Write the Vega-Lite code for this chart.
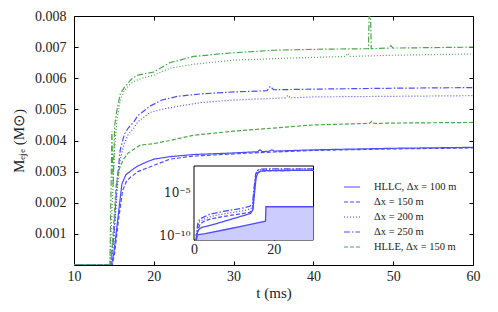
{
  "$schema": "https://vega.github.io/schema/vega-lite/v6.json",
  "width": 399,
  "height": 249,
  "autosize": {"type": "none"},
  "padding": {"left": 74, "top": 16, "right": 25, "bottom": 47},
  "background": "white",
  "config": {
    "view": {"stroke": "#000000", "strokeWidth": 1},
    "font": "Liberation Serif",
    "axis": {"grid": false, "domain": false, "labelFont": "Liberation Serif", "labelFontSize": 14, "labelColor": "#222", "tickColor": "#000", "titleFont": "Liberation Serif", "titleFontSize": 15, "titleFontWeight": "normal", "titleColor": "#222"}
  },
  "datasets": {
    "main": [
      {"s": "HLLC, Δx = 100 m", "t": 10, "m": 0}, {"s": "HLLC, Δx = 100 m", "t": 14.7, "m": 0}, {"s": "HLLC, Δx = 100 m", "t": 15, "m": 0.0004}, {"s": "HLLC, Δx = 100 m", "t": 15.5, "m": 0.0015}, {"s": "HLLC, Δx = 100 m", "t": 16, "m": 0.0026}, {"s": "HLLC, Δx = 100 m", "t": 16.5, "m": 0.0029}, {"s": "HLLC, Δx = 100 m", "t": 17, "m": 0.003}, {"s": "HLLC, Δx = 100 m", "t": 17.5, "m": 0.0031}, {"s": "HLLC, Δx = 100 m", "t": 18, "m": 0.00318}, {"s": "HLLC, Δx = 100 m", "t": 19, "m": 0.0033}, {"s": "HLLC, Δx = 100 m", "t": 20, "m": 0.0034}, {"s": "HLLC, Δx = 100 m", "t": 22, "m": 0.00348}, {"s": "HLLC, Δx = 100 m", "t": 25, "m": 0.00355}, {"s": "HLLC, Δx = 100 m", "t": 30, "m": 0.0036}, {"s": "HLLC, Δx = 100 m", "t": 33, "m": 0.00364}, {"s": "HLLC, Δx = 100 m", "t": 33.3, "m": 0.0037}, {"s": "HLLC, Δx = 100 m", "t": 33.6, "m": 0.00364}, {"s": "HLLC, Δx = 100 m", "t": 34.5, "m": 0.00366}, {"s": "HLLC, Δx = 100 m", "t": 34.8, "m": 0.0037}, {"s": "HLLC, Δx = 100 m", "t": 35.1, "m": 0.00366}, {"s": "HLLC, Δx = 100 m", "t": 40, "m": 0.0037}, {"s": "HLLC, Δx = 100 m", "t": 50, "m": 0.00375}, {"s": "HLLC, Δx = 100 m", "t": 60, "m": 0.00378},
      {"s": "Δx = 150 m", "t": 10, "m": 0}, {"s": "Δx = 150 m", "t": 14.8, "m": 0}, {"s": "Δx = 150 m", "t": 15.1, "m": 0.0004}, {"s": "Δx = 150 m", "t": 15.6, "m": 0.0015}, {"s": "Δx = 150 m", "t": 16.1, "m": 0.0024}, {"s": "Δx = 150 m", "t": 16.6, "m": 0.0027}, {"s": "Δx = 150 m", "t": 17, "m": 0.0028}, {"s": "Δx = 150 m", "t": 18, "m": 0.003}, {"s": "Δx = 150 m", "t": 19, "m": 0.0031}, {"s": "Δx = 150 m", "t": 20, "m": 0.0032}, {"s": "Δx = 150 m", "t": 22, "m": 0.0034}, {"s": "Δx = 150 m", "t": 25, "m": 0.0035}, {"s": "Δx = 150 m", "t": 30, "m": 0.00357}, {"s": "Δx = 150 m", "t": 35, "m": 0.00363}, {"s": "Δx = 150 m", "t": 40, "m": 0.00368}, {"s": "Δx = 150 m", "t": 50, "m": 0.00373}, {"s": "Δx = 150 m", "t": 60, "m": 0.00376},
      {"s": "Δx = 200 m", "t": 10, "m": 0}, {"s": "Δx = 200 m", "t": 14.6, "m": 0}, {"s": "Δx = 200 m", "t": 15, "m": 0.0008}, {"s": "Δx = 200 m", "t": 15.4, "m": 0.0024}, {"s": "Δx = 200 m", "t": 15.8, "m": 0.0034}, {"s": "Δx = 200 m", "t": 16.3, "m": 0.0039}, {"s": "Δx = 200 m", "t": 16.8, "m": 0.0042}, {"s": "Δx = 200 m", "t": 17.5, "m": 0.0044}, {"s": "Δx = 200 m", "t": 18, "m": 0.0046}, {"s": "Δx = 200 m", "t": 18.5, "m": 0.0047}, {"s": "Δx = 200 m", "t": 19.5, "m": 0.0049}, {"s": "Δx = 200 m", "t": 21, "m": 0.005}, {"s": "Δx = 200 m", "t": 23, "m": 0.0051}, {"s": "Δx = 200 m", "t": 26, "m": 0.00522}, {"s": "Δx = 200 m", "t": 30, "m": 0.0053}, {"s": "Δx = 200 m", "t": 36.5, "m": 0.00537}, {"s": "Δx = 200 m", "t": 36.8, "m": 0.00545}, {"s": "Δx = 200 m", "t": 37.1, "m": 0.00537}, {"s": "Δx = 200 m", "t": 40, "m": 0.0054}, {"s": "Δx = 200 m", "t": 50, "m": 0.00542}, {"s": "Δx = 200 m", "t": 60, "m": 0.00544},
      {"s": "Δx = 250 m", "t": 10, "m": 0}, {"s": "Δx = 250 m", "t": 14.6, "m": 0}, {"s": "Δx = 250 m", "t": 15, "m": 0.001}, {"s": "Δx = 250 m", "t": 15.4, "m": 0.0027}, {"s": "Δx = 250 m", "t": 15.8, "m": 0.0037}, {"s": "Δx = 250 m", "t": 16.3, "m": 0.0042}, {"s": "Δx = 250 m", "t": 16.8, "m": 0.0044}, {"s": "Δx = 250 m", "t": 17.5, "m": 0.0046}, {"s": "Δx = 250 m", "t": 18, "m": 0.0048}, {"s": "Δx = 250 m", "t": 18.5, "m": 0.0049}, {"s": "Δx = 250 m", "t": 19.5, "m": 0.0051}, {"s": "Δx = 250 m", "t": 21, "m": 0.0053}, {"s": "Δx = 250 m", "t": 23, "m": 0.00542}, {"s": "Δx = 250 m", "t": 26, "m": 0.0055}, {"s": "Δx = 250 m", "t": 30, "m": 0.00556}, {"s": "Δx = 250 m", "t": 34.2, "m": 0.0056}, {"s": "Δx = 250 m", "t": 34.6, "m": 0.00574}, {"s": "Δx = 250 m", "t": 35, "m": 0.00563}, {"s": "Δx = 250 m", "t": 40, "m": 0.00565}, {"s": "Δx = 250 m", "t": 50, "m": 0.00568}, {"s": "Δx = 250 m", "t": 60, "m": 0.0057},
      {"s": "HLLE, Δx = 150 m", "t": 10, "m": 0}, {"s": "HLLE, Δx = 150 m", "t": 14.6, "m": 0}, {"s": "HLLE, Δx = 150 m", "t": 14.9, "m": 0.001}, {"s": "HLLE, Δx = 150 m", "t": 15.3, "m": 0.0026}, {"s": "HLLE, Δx = 150 m", "t": 15.7, "m": 0.0031}, {"s": "HLLE, Δx = 150 m", "t": 16.2, "m": 0.0034}, {"s": "HLLE, Δx = 150 m", "t": 16.8, "m": 0.0036}, {"s": "HLLE, Δx = 150 m", "t": 18.3, "m": 0.00385}, {"s": "HLLE, Δx = 150 m", "t": 20, "m": 0.0039}, {"s": "HLLE, Δx = 150 m", "t": 22, "m": 0.004}, {"s": "HLLE, Δx = 150 m", "t": 25, "m": 0.00417}, {"s": "HLLE, Δx = 150 m", "t": 30, "m": 0.0043}, {"s": "HLLE, Δx = 150 m", "t": 34, "m": 0.00438}, {"s": "HLLE, Δx = 150 m", "t": 40, "m": 0.0045}, {"s": "HLLE, Δx = 150 m", "t": 47, "m": 0.00455}, {"s": "HLLE, Δx = 150 m", "t": 47.3, "m": 0.00462}, {"s": "HLLE, Δx = 150 m", "t": 47.6, "m": 0.00455}, {"s": "HLLE, Δx = 150 m", "t": 50, "m": 0.00456}, {"s": "HLLE, Δx = 150 m", "t": 60, "m": 0.00458},
      {"s": "HLLE, Δx = 200 m", "t": 10, "m": 0}, {"s": "HLLE, Δx = 200 m", "t": 14.5, "m": 0}, {"s": "HLLE, Δx = 200 m", "t": 14.8, "m": 0.002}, {"s": "HLLE, Δx = 200 m", "t": 15.1, "m": 0.0038}, {"s": "HLLE, Δx = 200 m", "t": 15.4, "m": 0.0047}, {"s": "HLLE, Δx = 200 m", "t": 15.8, "m": 0.0053}, {"s": "HLLE, Δx = 200 m", "t": 16.3, "m": 0.0056}, {"s": "HLLE, Δx = 200 m", "t": 17, "m": 0.0058}, {"s": "HLLE, Δx = 200 m", "t": 17.5, "m": 0.0059}, {"s": "HLLE, Δx = 200 m", "t": 18.5, "m": 0.006}, {"s": "HLLE, Δx = 200 m", "t": 20, "m": 0.0061}, {"s": "HLLE, Δx = 200 m", "t": 22, "m": 0.00632}, {"s": "HLLE, Δx = 200 m", "t": 25, "m": 0.00645}, {"s": "HLLE, Δx = 200 m", "t": 30, "m": 0.00658}, {"s": "HLLE, Δx = 200 m", "t": 35, "m": 0.00663}, {"s": "HLLE, Δx = 200 m", "t": 40, "m": 0.00667}, {"s": "HLLE, Δx = 200 m", "t": 44, "m": 0.0067}, {"s": "HLLE, Δx = 200 m", "t": 44.3, "m": 0.0068}, {"s": "HLLE, Δx = 200 m", "t": 44.6, "m": 0.0067}, {"s": "HLLE, Δx = 200 m", "t": 50, "m": 0.00674}, {"s": "HLLE, Δx = 200 m", "t": 60, "m": 0.00678},
      {"s": "HLLE, Δx = 250 m", "t": 10, "m": 0}, {"s": "HLLE, Δx = 250 m", "t": 14.5, "m": 0}, {"s": "HLLE, Δx = 250 m", "t": 14.75, "m": 0.0043}, {"s": "HLLE, Δx = 250 m", "t": 14.9, "m": 0.0025}, {"s": "HLLE, Δx = 250 m", "t": 15.1, "m": 0.0045}, {"s": "HLLE, Δx = 250 m", "t": 15.4, "m": 0.005}, {"s": "HLLE, Δx = 250 m", "t": 15.8, "m": 0.0055}, {"s": "HLLE, Δx = 250 m", "t": 16.3, "m": 0.0057}, {"s": "HLLE, Δx = 250 m", "t": 17.3, "m": 0.006}, {"s": "HLLE, Δx = 250 m", "t": 18, "m": 0.0061}, {"s": "HLLE, Δx = 250 m", "t": 20, "m": 0.0062}, {"s": "HLLE, Δx = 250 m", "t": 22, "m": 0.0065}, {"s": "HLLE, Δx = 250 m", "t": 25, "m": 0.0067}, {"s": "HLLE, Δx = 250 m", "t": 29, "m": 0.0068}, {"s": "HLLE, Δx = 250 m", "t": 35, "m": 0.0069}, {"s": "HLLE, Δx = 250 m", "t": 40, "m": 0.00693}, {"s": "HLLE, Δx = 250 m", "t": 46.9, "m": 0.00695}, {"s": "HLLE, Δx = 250 m", "t": 47, "m": 0.0082}, {"s": "HLLE, Δx = 250 m", "t": 47.15, "m": 0.0082}, {"s": "HLLE, Δx = 250 m", "t": 47.25, "m": 0.00695}, {"s": "HLLE, Δx = 250 m", "t": 49.4, "m": 0.00697}, {"s": "HLLE, Δx = 250 m", "t": 49.7, "m": 0.00705}, {"s": "HLLE, Δx = 250 m", "t": 50, "m": 0.00697}, {"s": "HLLE, Δx = 250 m", "t": 60, "m": 0.007}
    ],
    "inset": [
      {"s": "HLLC, Δx = 100 m", "t": 0.5, "m": 3e-11}, {"s": "HLLC, Δx = 100 m", "t": 0.8, "m": 2e-10}, {"s": "HLLC, Δx = 100 m", "t": 1.2, "m": 5e-10}, {"s": "HLLC, Δx = 100 m", "t": 2, "m": 9e-10}, {"s": "HLLC, Δx = 100 m", "t": 3.6, "m": 1.3e-9}, {"s": "HLLC, Δx = 100 m", "t": 6, "m": 2.7e-9}, {"s": "HLLC, Δx = 100 m", "t": 9, "m": 7e-9}, {"s": "HLLC, Δx = 100 m", "t": 12, "m": 1.8e-8}, {"s": "HLLC, Δx = 100 m", "t": 14.2, "m": 3.6e-8}, {"s": "HLLC, Δx = 100 m", "t": 14.8, "m": 1e-7}, {"s": "HLLC, Δx = 100 m", "t": 15.2, "m": 1e-5}, {"s": "HLLC, Δx = 100 m", "t": 15.6, "m": 5e-4}, {"s": "HLLC, Δx = 100 m", "t": 16, "m": 1.8e-3}, {"s": "HLLC, Δx = 100 m", "t": 16.7, "m": 3e-3}, {"s": "HLLC, Δx = 100 m", "t": 18, "m": 3.5e-3}, {"s": "HLLC, Δx = 100 m", "t": 22, "m": 3.6e-3}, {"s": "HLLC, Δx = 100 m", "t": 30, "m": 3.8e-3},
      {"s": "Δx = 150 m", "t": 0.6, "m": 3e-11}, {"s": "Δx = 150 m", "t": 1, "m": 5e-10}, {"s": "Δx = 150 m", "t": 1.5, "m": 2e-9}, {"s": "Δx = 150 m", "t": 2.3, "m": 4e-9}, {"s": "Δx = 150 m", "t": 4, "m": 8e-9}, {"s": "Δx = 150 m", "t": 7, "m": 1.5e-8}, {"s": "Δx = 150 m", "t": 10, "m": 2.5e-8}, {"s": "Δx = 150 m", "t": 12.5, "m": 3.8e-8}, {"s": "Δx = 150 m", "t": 14, "m": 5e-8}, {"s": "Δx = 150 m", "t": 14.7, "m": 1e-7}, {"s": "Δx = 150 m", "t": 15.1, "m": 1e-5}, {"s": "Δx = 150 m", "t": 15.5, "m": 6e-4}, {"s": "Δx = 150 m", "t": 16, "m": 2e-3}, {"s": "Δx = 150 m", "t": 17, "m": 3.2e-3}, {"s": "Δx = 150 m", "t": 20, "m": 3.5e-3}, {"s": "Δx = 150 m", "t": 30, "m": 3.8e-3},
      {"s": "Δx = 200 m", "t": 0.6, "m": 3e-11}, {"s": "Δx = 200 m", "t": 0.9, "m": 1e-9}, {"s": "Δx = 200 m", "t": 1.4, "m": 4e-9}, {"s": "Δx = 200 m", "t": 2.3, "m": 7e-9}, {"s": "Δx = 200 m", "t": 4, "m": 1.5e-8}, {"s": "Δx = 200 m", "t": 7, "m": 3e-8}, {"s": "Δx = 200 m", "t": 10, "m": 5e-8}, {"s": "Δx = 200 m", "t": 12.5, "m": 8e-8}, {"s": "Δx = 200 m", "t": 14, "m": 1.1e-7}, {"s": "Δx = 200 m", "t": 14.7, "m": 2e-7}, {"s": "Δx = 200 m", "t": 15.1, "m": 2e-5}, {"s": "Δx = 200 m", "t": 15.5, "m": 1.2e-3}, {"s": "Δx = 200 m", "t": 16, "m": 3.5e-3}, {"s": "Δx = 200 m", "t": 17, "m": 4.8e-3}, {"s": "Δx = 200 m", "t": 20, "m": 5.2e-3}, {"s": "Δx = 200 m", "t": 30, "m": 5.4e-3},
      {"s": "Δx = 250 m", "t": 0.6, "m": 3e-11}, {"s": "Δx = 250 m", "t": 0.9, "m": 2e-9}, {"s": "Δx = 250 m", "t": 1.4, "m": 8e-9}, {"s": "Δx = 250 m", "t": 2.3, "m": 1.3e-8}, {"s": "Δx = 250 m", "t": 4, "m": 3e-8}, {"s": "Δx = 250 m", "t": 7, "m": 6e-8}, {"s": "Δx = 250 m", "t": 10, "m": 1e-7}, {"s": "Δx = 250 m", "t": 12.5, "m": 1.6e-7}, {"s": "Δx = 250 m", "t": 14, "m": 2.5e-7}, {"s": "Δx = 250 m", "t": 14.7, "m": 5e-7}, {"s": "Δx = 250 m", "t": 15.1, "m": 4e-5}, {"s": "Δx = 250 m", "t": 15.5, "m": 1.5e-3}, {"s": "Δx = 250 m", "t": 16, "m": 4e-3}, {"s": "Δx = 250 m", "t": 17, "m": 5.3e-3}, {"s": "Δx = 250 m", "t": 20, "m": 5.6e-3}, {"s": "Δx = 250 m", "t": 30, "m": 5.7e-3}
    ],
    "floor": [
      {"t": 0.3, "m": 1.1e-10}, {"t": 2.8, "m": 1.7e-10}, {"t": 8, "m": 5e-10}, {"t": 13, "m": 1.5e-9}, {"t": 17.95, "m": 4.6e-9}, {"t": 18.05, "m": 2.2e-7}, {"t": 30, "m": 2.2e-7}
    ]
  },
  "layer": [
    {
      "layer": [
        {
          "data": {"name": "main"},
          "mark": {"type": "line", "strokeWidth": 1.2, "clip": true},
          "encoding": {
            "x": {"field": "t", "type": "quantitative", "scale": {"domain": [10, 60], "nice": false, "zero": false},
                  "axis": {"orient": "bottom", "values": [10, 20, 30, 40, 50, 60], "tickSize": -4, "labelPadding": 8, "title": "t (ms)", "titlePadding": 2, "labelFlush": false}},
            "y": {"field": "m", "type": "quantitative", "scale": {"domain": [0, 0.008], "nice": false},
                  "axis": {"orient": "left", "values": [0.001, 0.002, 0.003, 0.004, 0.005, 0.006, 0.007, 0.008], "format": ".3f", "tickSize": -4, "labelPadding": 12, "title": "Mₑⱼₑ (M⊙)", "titlePadding": 8, "labelFlush": false}},
            "color": {"field": "s", "type": "nominal",
                      "scale": {"domain": ["HLLC, Δx = 100 m", "Δx = 150 m", "Δx = 200 m", "Δx = 250 m", "HLLE, Δx = 150 m", "HLLE, Δx = 200 m", "HLLE, Δx = 250 m"],
                                "range": ["#4d4dff", "#4d4dff", "#4d4dff", "#4d4dff", "#4da64d", "#4da64d", "#4da64d"]},
                      "legend": {"values": ["HLLC, Δx = 100 m", "Δx = 150 m", "Δx = 200 m", "Δx = 250 m", "HLLE, Δx = 150 m"], "title": null, "orient": "none", "legendX": 269, "legendY": 162, "symbolType": "stroke", "symbolSize": 256, "symbolStrokeWidth": 1.2, "labelOffset": 13, "labelFont": "Liberation Serif", "labelFontSize": 10.5, "labelColor": "#222", "rowPadding": 0}},
            "strokeDash": {"field": "s", "type": "nominal",
                      "scale": {"domain": ["HLLC, Δx = 100 m", "Δx = 150 m", "Δx = 200 m", "Δx = 250 m", "HLLE, Δx = 150 m", "HLLE, Δx = 200 m", "HLLE, Δx = 250 m"],
                                "range": [[1, 0], [4, 2], [1, 2], [6, 2, 1.5, 2], [4, 2], [1, 2], [6, 2, 1.5, 2]]},
                      "legend": {"values": ["HLLC, Δx = 100 m", "Δx = 150 m", "Δx = 200 m", "Δx = 250 m", "HLLE, Δx = 150 m"], "title": null, "orient": "none", "legendX": 269, "legendY": 162, "symbolType": "stroke", "symbolSize": 256, "symbolStrokeWidth": 1.2, "labelOffset": 13, "labelFont": "Liberation Serif", "labelFontSize": 10.5, "labelColor": "#222", "rowPadding": 0}}
          }
        },
        {
          "data": {"name": "main"},
          "mark": {"type": "point", "opacity": 0},
          "encoding": {
            "x": {"field": "t", "type": "quantitative", "axis": {"orient": "top", "values": [10, 20, 30, 40, 50, 60], "tickSize": -4, "labels": false, "title": null}},
            "y": {"field": "m", "type": "quantitative", "axis": {"orient": "right", "values": [0.001, 0.002, 0.003, 0.004, 0.005, 0.006, 0.007], "tickSize": -4, "labels": false, "title": null}}
          }
        }
      ],
      "resolve": {"axis": {"x": "independent", "y": "independent"}}
    },
    {
      "layer": [
        {
          "data": {"values": [{}]},
          "mark": {"type": "rect", "fill": "white", "stroke": "#000000", "strokeWidth": 1},
          "encoding": {
            "x": {"datum": 0, "type": "quantitative", "scale": {"domain": [0, 30], "range": [120, 239.5], "nice": false, "zero": false},
                  "axis": {"orient": "bottom", "offset": -25, "values": [0, 20], "tickSize": -3, "labelPadding": 5, "title": null, "labelFlush": false}},
            "x2": {"datum": 30},
            "y": {"datum": 3e-11, "type": "quantitative", "scale": {"type": "log", "domain": [3e-11, 0.012], "range": [224, 150], "nice": false},
                  "axis": {"orient": "left", "offset": -120, "values": [1e-10, 1e-5], "tickSize": -3, "labelPadding": 7, "labelFont": "DejaVu Serif", "labelFontSize": 12, "labelExpr": "datum.value < 1e-7 ? '10⁻¹⁰' : '10⁻⁵'", "title": null, "labelFlush": false}},
            "y2": {"datum": 0.012}
          }
        },
        {
          "data": {"name": "floor"},
          "mark": {"type": "area", "color": "#ccccff", "clip": true},
          "encoding": {
            "x": {"field": "t", "type": "quantitative"},
            "y": {"field": "m", "type": "quantitative"},
            "y2": {"datum": 3e-11}
          }
        },
        {
          "data": {"name": "floor"},
          "mark": {"type": "line", "color": "#4d4dff", "strokeWidth": 1.3, "clip": true},
          "encoding": {
            "x": {"field": "t", "type": "quantitative"},
            "y": {"field": "m", "type": "quantitative"}
          }
        },
        {
          "data": {"name": "inset"},
          "mark": {"type": "line", "strokeWidth": 1.3, "clip": true},
          "encoding": {
            "x": {"field": "t", "type": "quantitative"},
            "y": {"field": "m", "type": "quantitative"},
            "color": {"field": "s", "type": "nominal"},
            "strokeDash": {"field": "s", "type": "nominal"}
          }
        }
      ]
    }
  ],
  "resolve": {"scale": {"x": "independent", "y": "independent"}, "axis": {"x": "independent", "y": "independent"}}
}
